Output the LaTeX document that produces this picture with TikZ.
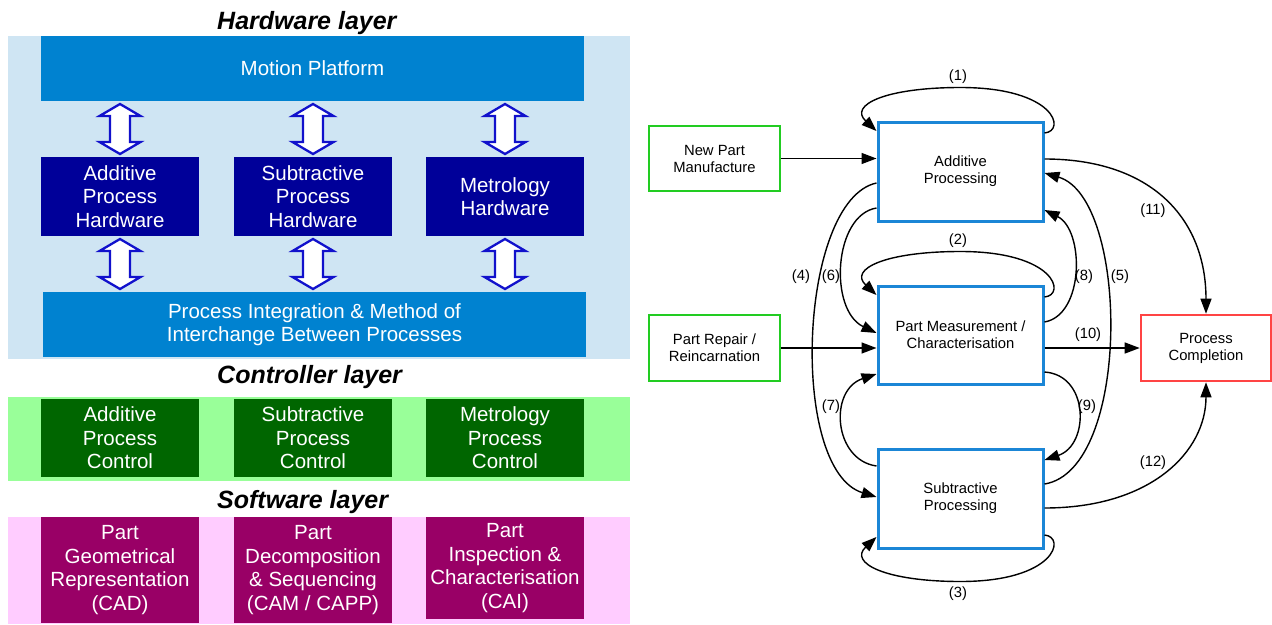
\documentclass[tikz,border=0pt]{standalone}
\usepackage{fontspec}
\setmainfont{Liberation Sans}
\usetikzlibrary{arrows.meta}
\definecolor{hwbg}{RGB}{207,229,243}
\definecolor{hwblue}{RGB}{0,130,208}
\definecolor{hwnavy}{RGB}{0,0,153}
\definecolor{arrowblue}{RGB}{17,17,204}
\definecolor{ctlbg}{RGB}{153,255,153}
\definecolor{ctlgreen}{RGB}{0,102,0}
\definecolor{swbg}{RGB}{255,204,255}
\definecolor{swpurple}{RGB}{153,0,102}
\definecolor{procblue}{RGB}{27,134,214}
\definecolor{startgreen}{RGB}{34,204,34}
\definecolor{endred}{RGB}{255,68,68}
\begin{document}
\begin{tikzpicture}[x=1pt,y=-1pt,
  layertitle/.style={anchor=base west, inner sep=0, font=\fontsize{25}{30}\selectfont\bfseries\itshape},
  block/.style={inner sep=0, text=white, align=center, font=\fontsize{20.5}{23.5}\selectfont},
  hwwide/.style={block, fill=hwblue, minimum width=543, minimum height=65},
  hwunit/.style={block, fill=hwnavy, minimum width=158, minimum height=79},
  ctlunit/.style={block, fill=ctlgreen, minimum width=158, minimum height=78},
  swunit/.style={block, fill=swpurple, minimum width=158},
  link/.style={draw=arrowblue, fill=white, line width=2.3pt, line join=miter},
  flowbox/.style={draw, line width=2.6pt, fill=white, inner sep=0, align=center, font=\fontsize{14.8}{17}\selectfont},
  procbox/.style={flowbox, draw=procblue, line width=3pt, minimum width=165, minimum height=99},
  entrybox/.style={flowbox, draw=startgreen, minimum width=131, minimum height=65},
  exitbox/.style={flowbox, draw=endred, minimum width=130, minimum height=66},
  conn/.style={draw=black, line width=1.4pt, -{Triangle[length=15pt,width=11pt]}},
  tag/.style={inner sep=0, font=\fontsize{14.8}{17}\selectfont},
]
\useasboundingbox (0,0) rectangle (1272,624);

% ---------------- Hardware layer ----------------
\node[layertitle] (hwtitle) at (217,29) {Hardware layer};
\fill[hwbg] (8,36) rectangle (630,359);
\node[hwwide] (mp) at (312.5,68.5) {Motion Platform};
\node[hwunit] (hadd) at (120,196.5) {Additive\\Process\\Hardware};
\node[hwunit] (hsub) at (313,196.5) {Subtractive\\Process\\Hardware};
\node[hwunit] (hmet) at (505,196.5) {Metrology\\Hardware};
\node[hwwide] (pi) at (314.5,324.5) {Process Integration \& Method of\\Interchange Between Processes};
\foreach \x in {120,313,505} {
  \foreach \yt/\yb in {104/154, 239/289} {
    \path[link] (\x,\yt) -- ({\x+20.5},{\yt+12}) -- ({\x+10},{\yt+12}) -- ({\x+10},{\yb-12})
      -- ({\x+20.5},{\yb-12}) -- (\x,\yb) -- ({\x-20.5},{\yb-12}) -- ({\x-10},{\yb-12})
      -- ({\x-10},{\yt+12}) -- ({\x-20.5},{\yt+12}) -- cycle;
  }
}

% ---------------- Controller layer ----------------
\node[layertitle] (ctltitle) at (217,383) {Controller layer};
\fill[ctlbg] (8,397) rectangle (630,481);
\node[ctlunit] (cadd) at (120,438) {Additive\\Process\\Control};
\node[ctlunit] (csub) at (313,438) {Subtractive\\Process\\Control};
\node[ctlunit] (cmet) at (505,438) {Metrology\\Process\\Control};

% ---------------- Software layer ----------------
\node[layertitle] (swtitle) at (217,508) {Software layer};
\fill[swbg] (8,517) rectangle (630,624);
\node[swunit, minimum height=106] (scad) at (120,570) {Part\\Geometrical\\Representation\\(CAD)};
\node[swunit, minimum height=106] (scam) at (313,570) {Part\\Decomposition\\\& Sequencing\\(CAM / CAPP)};
\node[swunit, minimum height=102] (scai) at (505,568) {Part\\Inspection \&\\Characterisation\\(CAI)};

% ---------------- Process flow ----------------
\node[entrybox] (npm) at (714.5,158.5) {New Part\\Manufacture};
\node[entrybox, minimum height=66] (pr) at (714.5,348) {Part Repair /\\Reincarnation};
\node[exitbox] (pc) at (1206,348) {Process\\Completion};
\node[procbox] (ap) at (960.5,171.5) {Additive\\Processing};
\node[procbox, minimum height=98] (pm) at (960.5,335) {Part Measurement /\\Characterisation};
\node[procbox] (sp) at (960.5,498.5) {Subtractive\\Processing};

\draw[conn] (npm.east) -- (npm.east -| ap.west);
\draw[conn] (pr.east) -- (pr.east -| pm.west);
\draw[conn] (pc.west -| pm.east) -- (pc.west);

% repeated processing loops
\draw[conn] ([yshift=38.5pt]ap.east) .. controls +(22,-2) and +(95,0) .. ([yshift=33pt]ap.north)
  .. controls +(-75,0) and +(-28,-26) .. ([yshift=40.5pt]ap.west);
\draw[conn] ([yshift=38pt]pm.east) .. controls +(22,-2) and +(95,0) .. ([yshift=33pt]pm.north)
  .. controls +(-75,0) and +(-28,-26) .. ([yshift=40pt]pm.west);
\draw[conn] ([yshift=-36.5pt]sp.east) .. controls +(22,2) and +(95,0) .. ([yshift=-32pt]sp.south)
  .. controls +(-75,0) and +(-28,26) .. ([yshift=-38.5pt]sp.west);

% transfers between processes
\draw[conn] ([yshift=-11.5pt]ap.west) .. controls +(-78,17) and +(-88,-27) .. ([yshift=1.5pt]sp.west);
\draw[conn] ([yshift=-36.5pt]ap.west) .. controls +(-43,7) and +(-48,-23) .. ([yshift=2pt]pm.west);
\draw[conn] ([yshift=32.5pt]sp.west) .. controls +(-43,-6) and +(-48,16) .. ([yshift=-39pt]pm.west);
\draw[conn] ([yshift=13pt]pm.east) .. controls +(40,-7) and +(40,20) .. ([yshift=-38.5pt]ap.east);
\draw[conn] ([yshift=-37pt]pm.east) .. controls +(45,3) and +(45,-15) .. ([yshift=38.5pt]sp.east);
\draw[conn] ([yshift=14.5pt]sp.east) .. controls +(87,-14) and +(85,25) .. ([yshift=-1.5pt]ap.east);
\draw[conn] ([yshift=12.5pt]ap.east) .. controls +(107,0) and +(0,-95) .. (pc.north);
\draw[conn] ([yshift=-9.5pt]sp.east) .. controls +(107,0) and +(0,69) .. (pc.south);

% path numbers
\node[tag] (t1) at (958,77) {(1)};
\node[tag] (t2) at (958,241) {(2)};
\node[tag] (t3) at (958,594) {(3)};
\node[tag] (t4) at (801,277) {(4)};
\node[tag] (t6) at (831,277) {(6)};
\node[tag] (t8) at (1084,277) {(8)};
\node[tag] (t5) at (1120,277) {(5)};
\node[tag] (t7) at (831,407) {(7)};
\node[tag] (t9) at (1087,407) {(9)};
\node[tag] (t10) at (1088,335) {(10)};
\node[tag] (t11) at (1153,211) {(11)};
\node[tag] (t12) at (1153,463) {(12)};
\end{tikzpicture}
\end{document}
